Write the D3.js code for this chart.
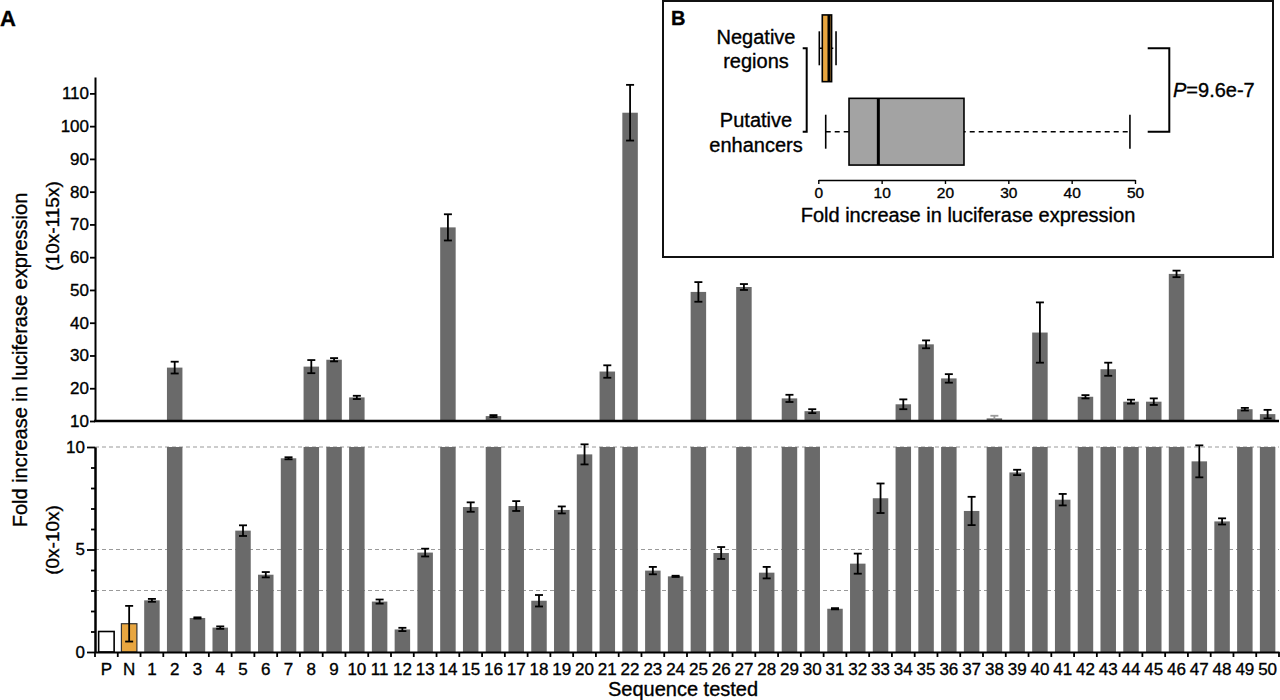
<!DOCTYPE html>
<html>
<head>
<meta charset="utf-8">
<script src="https://cdn.jsdelivr.net/npm/d3@7/dist/d3.min.js"></script>
<style>
  html, body { margin: 0; padding: 0; background: #fff; }
  svg { display: block; font-family: "Liberation Sans", Arial, Helvetica, sans-serif; }
  svg text { stroke: #000; stroke-width: 0.35px; fill: #000; }
</style>
</head>
<body>
<svg id="chart" width="1280" height="700"></svg>
<script>
// ---------- Data (panel A) ----------
const categories = ["P","N","1","2","3","4","5","6","7","8","9","10","11","12","13","14","15","16","17","18","19","20",
  "21","22","23","24","25","26","27","28","29","30","31","32","33","34","35","36","37","38","39","40",
  "41","42","43","44","45","46","47","48","49","50"];
const foldMeans = [1.0, 1.38, 2.52, 26.3, 1.66, 1.19, 5.92, 3.77, 9.45, 26.6, 28.7, 17.2, 2.46, 1.10, 4.85, 69.1,
  7.07, 11.5, 7.12, 2.50, 6.93, 9.64, 25.1, 104.1, 3.97, 3.69, 49.4, 4.83, 50.9, 3.87, 16.9, 13.0,
  2.11, 4.31, 7.50, 15.1, 33.4, 23.0, 6.88, 10.8, 8.76, 37.0, 7.43, 17.4, 25.8, 15.9, 15.9, 54.9,
  9.30, 6.37, 13.6, 12.1];
const foldErrors = [0, 0.87, 0.07, 1.8, 0.03, 0.06, 0.26, 0.13, 0.05, 2.0, 0.5, 0.5, 0.10, 0.08, 0.19, 4.0,
  0.23, 0.3, 0.24, 0.28, 0.17, 0.49, 1.9, 8.5, 0.18, 0.03, 3.0, 0.29, 0.9, 0.28, 1.1, 0.6,
  0.03, 0.49, 0.72, 1.5, 1.2, 1.3, 0.69, 0.8, 0.13, 9.2, 0.28, 0.5, 2.0, 0.6, 1.0, 1.0,
  0.78, 0.15, 0.4, 1.3];
const upperTicks = [10, 20, 30, 40, 50, 60, 70, 80, 90, 100, 110];
const lowerMajorTicks = [0, 5, 10];
const lowerMinorTicks = [1, 2, 3, 4, 6, 7, 8, 9];
const lowerGridValues = [3, 5, 10];

// ---------- Data (panel B) ----------
const boxGroups = ["Negative regions", "Putative enhancers"];
const boxLabelLines = [["Negative", "regions"], ["Putative", "enhancers"]];
const boxMin = [0.16, 1.17];
const boxQ1 = [0.63, 4.85];
const boxMedian = [1.69, 9.48];
const boxQ3 = [2.10, 23.0];
const boxMax = [2.80, 49.2];
const boxTicks = [0, 10, 20, 30, 40, 50];
const pValueText = "=9.6e-7";

// ---------- Setup ----------
const svg = d3.select("#chart");
const BAR_GRAY = "#6a6a6a";
const ORANGE = "#E8A640";

const x = d3.scaleBand().domain(categories).range([95, 1279]).paddingInner(0.32).paddingOuter(0.16);
const yUp = d3.scaleLinear().domain([10, 115]).range([421, 77]);
const yLo = d3.scaleLinear().domain([0, 10]).range([652, 447]);

const rows = categories.map((c, i) => ({ c, v: foldMeans[i], e: foldErrors[i], i }));

// "A" label
svg.append("text").attr("x", 0).attr("y", 26).attr("font-size", 22).attr("font-weight", "bold").text("A");

// ---------- Lower panel ----------
svg.append("g").selectAll("line").data(lowerGridValues).join("line")
  .attr("x1", 95).attr("x2", 1279)
  .attr("y1", d => yLo(d)).attr("y2", d => yLo(d))
  .attr("stroke", "#9a9a9a").attr("stroke-width", 1.2).attr("stroke-dasharray", "4,3");

svg.append("g").selectAll("rect").data(rows).join("rect")
  .attr("x", d => x(d.c)).attr("width", x.bandwidth())
  .attr("y", d => yLo(Math.min(d.v, 10)))
  .attr("height", d => yLo(0) - yLo(Math.min(d.v, 10)))
  .attr("fill", d => d.c === "P" ? "#fff" : d.c === "N" ? ORANGE : BAR_GRAY)
  .attr("stroke", d => d.c === "P" ? "#000" : d.c === "N" ? "#333" : "none")
  .attr("stroke-width", d => d.c === "P" ? 1.6 : 1.2);

const loErr = rows.filter(d => d.v <= 10 && d.e > 0);
const gLoErr = svg.append("g").attr("stroke", "#000").attr("stroke-width", 1.8);
gLoErr.selectAll(".v").data(loErr).join("line")
  .attr("x1", d => x(d.c) + x.bandwidth() / 2).attr("x2", d => x(d.c) + x.bandwidth() / 2)
  .attr("y1", d => yLo(d.v - d.e)).attr("y2", d => yLo(d.v + d.e));
gLoErr.selectAll(".t").data(loErr).join("line")
  .attr("x1", d => x(d.c) + x.bandwidth() / 2 - 4).attr("x2", d => x(d.c) + x.bandwidth() / 2 + 4)
  .attr("y1", d => yLo(d.v + d.e)).attr("y2", d => yLo(d.v + d.e));
gLoErr.selectAll(".b").data(loErr).join("line")
  .attr("x1", d => x(d.c) + x.bandwidth() / 2 - 4).attr("x2", d => x(d.c) + x.bandwidth() / 2 + 4)
  .attr("y1", d => yLo(d.v - d.e)).attr("y2", d => yLo(d.v - d.e));

// lower y axis
const loAxis = svg.append("g").attr("transform", "translate(95,0)")
  .call(d3.axisLeft(yLo).tickValues(lowerMajorTicks).tickSize(8).tickSizeOuter(0).tickPadding(2));
const loMinor = svg.append("g").attr("transform", "translate(95,0)")
  .call(d3.axisLeft(yLo).tickValues(lowerMinorTicks).tickSize(4).tickSizeOuter(0).tickFormat(""));
[loAxis, loMinor].forEach(g => {
  g.selectAll("path").attr("stroke", "#000").attr("stroke-width", 2);
  g.selectAll("line").attr("stroke", "#000").attr("stroke-width", 1.8);
});
loAxis.selectAll("text").attr("font-size", 17).attr("font-family", null);

// bottom x axis
const xAxis = svg.append("g").attr("transform", "translate(0,652)")
  .call(d3.axisBottom(x).tickSize(0).tickPadding(11));
xAxis.select("path").attr("stroke", "#000").attr("stroke-width", 2);
xAxis.selectAll("text").attr("font-size", 17).attr("font-family", null);
const gap = x.step() - x.bandwidth();
const boundaries = categories.map(c => x(c) - gap / 2).concat([x(categories[categories.length - 1]) + x.bandwidth() + gap / 2]);
svg.append("g").selectAll("line").data(boundaries).join("line")
  .attr("x1", d => d).attr("x2", d => d).attr("y1", 652).attr("y2", 657)
  .attr("stroke", "#000").attr("stroke-width", 1.8);

// ---------- Upper panel ----------
const upRows = rows.filter(d => d.v > 10);
svg.append("g").selectAll("rect").data(upRows).join("rect")
  .attr("x", d => x(d.c)).attr("width", x.bandwidth())
  .attr("y", d => yUp(d.v)).attr("height", d => yUp(10) - yUp(d.v))
  .attr("fill", BAR_GRAY);
const errColor = d => (d.v - d.e <= 10.05 ? "#9a9a9a" : "#000");
const gUpErr = svg.append("g").attr("stroke-width", 1.8);
gUpErr.selectAll(".v").data(upRows).join("line")
  .attr("stroke", errColor)
  .attr("x1", d => x(d.c) + x.bandwidth() / 2).attr("x2", d => x(d.c) + x.bandwidth() / 2)
  .attr("y1", d => yUp(Math.max(d.v - d.e, 10))).attr("y2", d => yUp(d.v + d.e));
gUpErr.selectAll(".t").data(upRows).join("line")
  .attr("stroke", errColor)
  .attr("x1", d => x(d.c) + x.bandwidth() / 2 - 4).attr("x2", d => x(d.c) + x.bandwidth() / 2 + 4)
  .attr("y1", d => yUp(d.v + d.e)).attr("y2", d => yUp(d.v + d.e));
gUpErr.selectAll(".b").data(upRows.filter(d => d.v - d.e > 10.05)).join("line")
  .attr("stroke", "#000")
  .attr("x1", d => x(d.c) + x.bandwidth() / 2 - 4).attr("x2", d => x(d.c) + x.bandwidth() / 2 + 4)
  .attr("y1", d => yUp(d.v - d.e)).attr("y2", d => yUp(d.v - d.e));

const upAxis = svg.append("g").attr("transform", "translate(95,0)")
  .call(d3.axisLeft(yUp).tickValues(upperTicks).tickSize(5).tickSizeOuter(0).tickPadding(1));
upAxis.select("path").attr("stroke", "#000").attr("stroke-width", 2);
upAxis.selectAll("line").attr("stroke", "#000").attr("stroke-width", 1.8);
upAxis.selectAll("text").attr("font-size", 17).attr("font-family", null);
svg.append("line").attr("x1", 94).attr("x2", 1279).attr("y1", yUp(10)).attr("y2", yUp(10))
  .attr("stroke", "#000").attr("stroke-width", 2.6);

// axis titles
svg.append("text").attr("transform", "translate(27,360) rotate(-90)").attr("text-anchor", "middle")
  .attr("font-size", 20).text("Fold increase in luciferase expression");
svg.append("text").attr("transform", "translate(59,226) rotate(-90)").attr("text-anchor", "middle")
  .attr("font-size", 19).text("(10x-115x)");
svg.append("text").attr("transform", "translate(59,540) rotate(-90)").attr("text-anchor", "middle")
  .attr("font-size", 19).text("(0x-10x)");
svg.append("text").attr("x", 683).attr("y", 696).attr("text-anchor", "middle")
  .attr("font-size", 20).text("Sequence tested");

// ---------- Inset B ----------
const inset = svg.append("g");
inset.append("rect").attr("x", 663).attr("y", 1).attr("width", 610).attr("height", 256)
  .attr("fill", "#fff").attr("stroke", "#111").attr("stroke-width", 2);
inset.append("text").attr("x", 671).attr("y", 25).attr("font-size", 20).attr("font-weight", "bold").text("B");

const bx = d3.scaleLinear().domain([0, 50]).range([818.3, 1135]);
const by = d3.scaleBand().domain(boxGroups).range([6.6, 173.4]).paddingInner(0.2).paddingOuter(0.1);
const bdata = boxGroups.map((g, i) => ({ g, i, min: boxMin[i], q1: boxQ1[i], med: boxMedian[i], q3: boxQ3[i], max: boxMax[i] }));
const cy = d => by(d.g) + by.bandwidth() / 2;

// whisker dashed lines
inset.append("g").selectAll("line").data(bdata).join("line")
  .attr("x1", d => bx(d.min)).attr("x2", d => bx(d.max)).attr("y1", cy).attr("y2", cy)
  .attr("stroke", "#000").attr("stroke-width", 1.6).attr("stroke-dasharray", "5,4");
// whisker caps
inset.append("g").selectAll("line").data(bdata.flatMap(d => [{ d, v: d.min }, { d, v: d.max }])).join("line")
  .attr("x1", o => bx(o.v)).attr("x2", o => bx(o.v))
  .attr("y1", o => cy(o.d) - 17).attr("y2", o => cy(o.d) + 17)
  .attr("stroke", "#000").attr("stroke-width", 1.6);
// boxes
inset.append("g").selectAll("rect").data(bdata).join("rect")
  .attr("x", d => bx(d.q1)).attr("width", d => bx(d.q3) - bx(d.q1))
  .attr("y", d => by(d.g)).attr("height", by.bandwidth())
  .attr("fill", d => d.i === 0 ? ORANGE : "#a3a3a3")
  .attr("stroke", "#000").attr("stroke-width", 1.6);
// medians
inset.append("g").selectAll("line").data(bdata).join("line")
  .attr("x1", d => bx(d.med)).attr("x2", d => bx(d.med))
  .attr("y1", d => by(d.g)).attr("y2", d => by(d.g) + by.bandwidth())
  .attr("stroke", "#000").attr("stroke-width", 3);

// group labels
bdata.forEach(d => {
  boxLabelLines[d.i].forEach((ln, k) => {
    inset.append("text").attr("x", 756).attr("y", cy(d) - 4.5 + k * 24.5)
      .attr("text-anchor", "middle").attr("font-size", 20).text(ln);
  });
});

// left bracket
const c0 = cy(bdata[0]), c1 = cy(bdata[1]);
inset.append("path")
  .attr("d", `M802.7,${c0}H806.7V${c1}H802.7`)
  .attr("fill", "none").attr("stroke", "#000").attr("stroke-width", 2);
// right bracket
inset.append("path")
  .attr("d", `M1147.7,${c0}H1169.3V${c1}H1147.7`)
  .attr("fill", "none").attr("stroke", "#000").attr("stroke-width", 2);
const pt = inset.append("text").attr("x", 1173).attr("y", (c0 + c1) / 2 + 7).attr("font-size", 20);
pt.append("tspan").attr("font-style", "italic").text("P");
pt.append("tspan").text(pValueText);

// inset axis
const bAxis = inset.append("g").attr("transform", "translate(0,180)")
  .call(d3.axisBottom(bx).tickValues(boxTicks).tickSize(4).tickSizeOuter(0).tickPadding(3));
bAxis.select("path").attr("stroke", "#000").attr("stroke-width", 1.6);
bAxis.selectAll("line").attr("stroke", "#000").attr("stroke-width", 1.4);
bAxis.selectAll("text").attr("font-size", 15.5).attr("font-family", null);
inset.append("text").attr("x", 968).attr("y", 222).attr("text-anchor", "middle")
  .attr("font-size", 20).text("Fold increase in luciferase expression");
</script>
</body>
</html>
